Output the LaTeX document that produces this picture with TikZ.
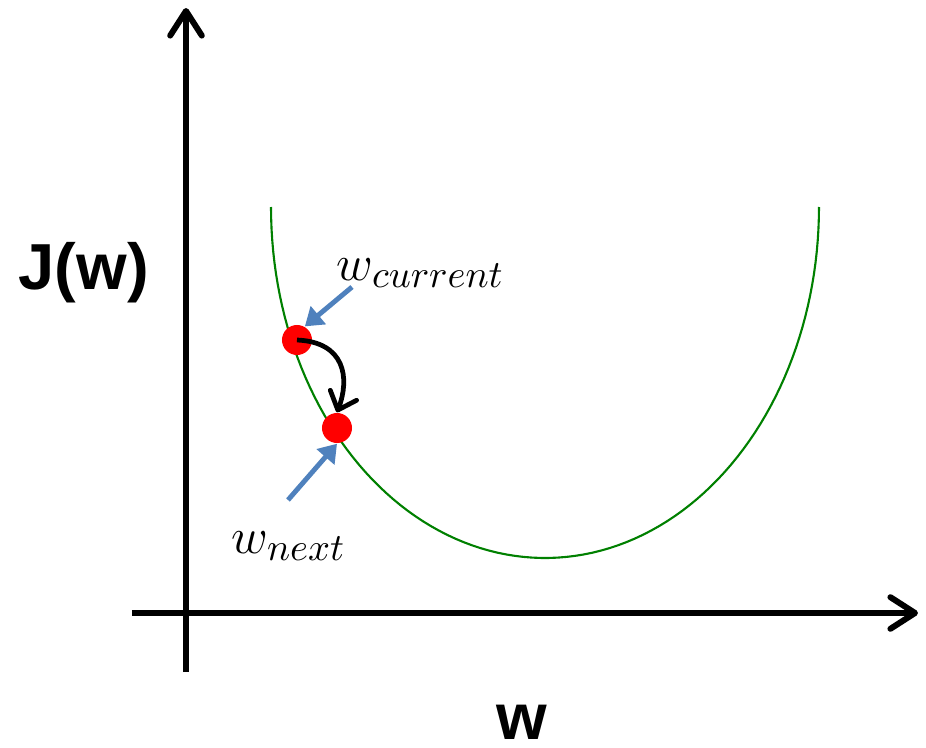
\documentclass[tikz,border=0pt]{standalone}
\usepackage{fontspec}
\setmainfont{Liberation Sans}
\usetikzlibrary{arrows.meta}

\definecolor{costgreen}{RGB}{0,128,0}
\definecolor{pointblue}{RGB}{79,129,189}

\begin{document}
\begin{tikzpicture}[x=0.01cm, y=-0.01cm,
  axis/.style={line width=1.7pt, -{Straight Barb[round,length=7pt,width=9pt]}},
  dot/.style={circle, fill=red, inner sep=0pt, minimum size=0.3cm},
  pointer/.style={pointblue, line width=1.4pt, -{Triangle[length=5pt,width=6.5pt]}},
  hop/.style={line width=1.35pt, -{Straight Barb[round,length=4.5pt,width=8pt]}},
  axislabel/.style={inner sep=0pt, font=\fontsize{18.5}{22}\selectfont\bfseries},
  mathlabel/.style={inner sep=0pt, font=\fontsize{15.5}{18}\selectfont}]
\useasboundingbox (0,0) rectangle (926,748);

% Axes
\coordinate (ybot) at (186,672);
\coordinate (ytop) at (186,8);
\coordinate (xleft) at (132,613);
\coordinate (xright) at (918,613);
\draw[axis] (ybot) -- (ytop);
\draw[axis] (xleft) -- (xright);

\node[axislabel, anchor=base west] (jw) at (18,289) {J(w)};
\node[axislabel, anchor=base] (wlab) at (522,739) {w};

% Cost curve
\draw[costgreen, line width=0.6pt] plot[domain=0:180, samples=100]
  ({545+274*cos(\x)}, {207+351*sin(\x)});

% Points on the curve
\node[dot] (wcur) at (297,340) {};
\node[dot] (wnext) at (337,428) {};

% Step from current to next
\draw[hop] (wcur.center) .. controls (345,342) and (350,378) .. (wnext.north);

% Labels
\node[mathlabel, anchor=base west] (curlab) at (336,280) {$w_{current}$};
\node[mathlabel, anchor=base west] (nextlab) at (231,553) {$w_{next}$};

\coordinate (curtail) at (352,287);
\coordinate (nexttail) at (288,500);
\draw[pointer] (curtail) -- (wcur.60);
\draw[pointer] (nexttail) -- (wnext.south);

\end{tikzpicture}
\end{document}
